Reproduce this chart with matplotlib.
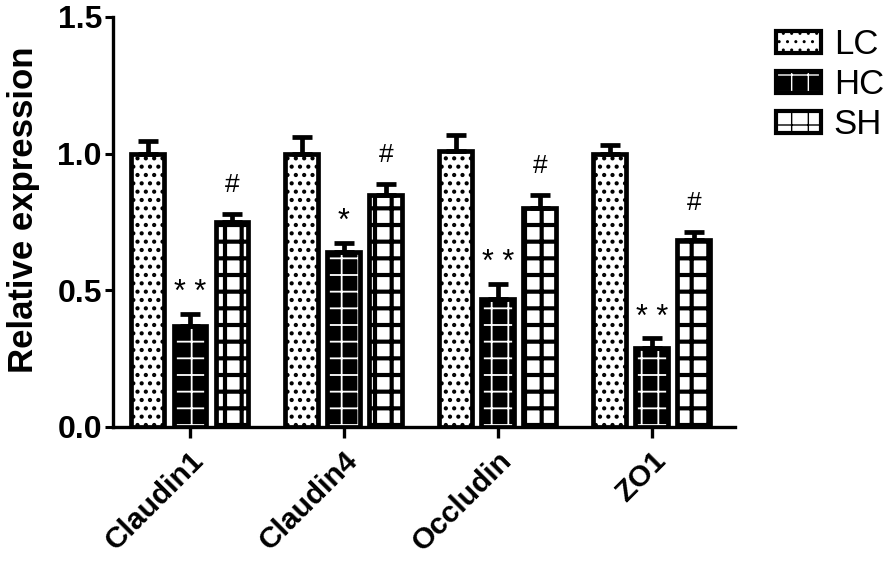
import matplotlib
matplotlib.use("Agg")
import matplotlib.pyplot as plt
import numpy as np
from matplotlib.patches import Patch
from matplotlib.legend_handler import HandlerTuple

categories = ["Claudin1", "Claudin4", "Occludin", "ZO1"]
groups = ["LC", "HC", "SH"]
lc_mean = [1.00, 1.00, 1.01, 1.00]
lc_err = [0.045, 0.06, 0.06, 0.03]
hc_mean = [0.37, 0.64, 0.47, 0.29]
hc_err = [0.045, 0.035, 0.055, 0.035]
sh_mean = [0.75, 0.85, 0.80, 0.685]
sh_err = [0.03, 0.04, 0.05, 0.03]
hc_marks = ["* *", "*", "* *", "* *"]
sh_marks = ["#", "#", "#", "#"]
yticks = [0.0, 0.5, 1.0, 1.5]

plt.rcParams['font.family'] = ['Liberation Sans', 'DejaVu Sans']

fig = plt.figure(figsize=(8.94, 5.61), dpi=100)
ax = fig.add_axes([113/894, 1-427/561, (735-113)/894, (427-17)/561])

x = np.arange(len(categories))
w = 0.214
off = 0.273
lw = 3.4
ekw = dict(ecolor='black', elinewidth=3.4, capsize=7, capthick=3.4)

def errs(e):
    return [np.zeros(len(e)), e]

# LC
with plt.rc_context({'hatch.linewidth': 1.8}):
    ax.bar(x - off, lc_mean, w, color='white', edgecolor='black', hatch='..', linewidth=0, zorder=2)
ax.bar(x - off, lc_mean, w, fill=False, edgecolor='black', linewidth=lw, zorder=3,
       yerr=errs(lc_err), error_kw=ekw)
# HC
with plt.rc_context({'hatch.linewidth': 1.3}):
    ax.bar(x, hc_mean, w, color='black', edgecolor='white', hatch='+', linewidth=0, zorder=2)
ax.bar(x, hc_mean, w, fill=False, edgecolor='black', linewidth=lw, zorder=3,
       yerr=errs(hc_err), error_kw=ekw)
# SH
with plt.rc_context({'hatch.linewidth': 3.0}):
    ax.bar(x + off, sh_mean, w, color='white', edgecolor='black', hatch='+', linewidth=0, zorder=2)
ax.bar(x + off, sh_mean, w, fill=False, edgecolor='black', linewidth=lw, zorder=3,
       yerr=errs(sh_err), error_kw=ekw)

for i in range(len(categories)):
    ax.text(x[i], hc_mean[i] + hc_err[i] + 0.075, hc_marks[i], ha='center', va='center',
            fontsize=22, zorder=4)
    ax.text(x[i] + off, sh_mean[i] + sh_err[i] + 0.105, sh_marks[i], ha='center', va='center',
            fontsize=19, zorder=4)

ax.set_xlim(-0.5, 3.54)
ax.set_ylim(0, 1.5)
ax.set_yticks(yticks)
ax.set_yticklabels([f"{v:.1f}" for v in yticks], fontsize=23, fontweight='bold')
ax.set_xticks(x)
ax.set_xticklabels(categories, fontsize=21.5, fontweight='bold', rotation=45,
                   ha='right', rotation_mode='anchor')
ax.tick_params(axis='y', length=6, width=2.2, pad=2)
ax.tick_params(axis='x', length=8, width=2.4, pad=6)
for s in ['top', 'right']:
    ax.spines[s].set_visible(False)
for s in ['left', 'bottom']:
    ax.spines[s].set_linewidth(2.4)
ax.set_ylabel("Relative expression", fontsize=25, fontweight='bold')
ax.yaxis.set_label_coords(-0.118, 0.53)

# legend
with plt.rc_context({'hatch.linewidth': 1.8}):
    h_lc = Patch(facecolor='white', edgecolor='black', hatch='..', linewidth=3)
with plt.rc_context({'hatch.linewidth': 1.3}):
    h_hc_a = Patch(facecolor='black', edgecolor='white', hatch='+', linewidth=0)
h_hc_b = Patch(fill=False, edgecolor='black', linewidth=3)
with plt.rc_context({'hatch.linewidth': 3.0}):
    h_sh = Patch(facecolor='white', edgecolor='black', hatch='+', linewidth=3)
fig.legend([h_lc, (h_hc_a, h_hc_b), h_sh], groups, loc='upper left',
           bbox_to_anchor=(776/894, 1-28/561), frameon=False, fontsize=25,
           borderaxespad=0, borderpad=0,
           handlelength=1.3, handleheight=0.6, labelspacing=0.2, handletextpad=0.36,
           handler_map={tuple: HandlerTuple(ndivide=1)})

fig.savefig("out.png", dpi=100)
